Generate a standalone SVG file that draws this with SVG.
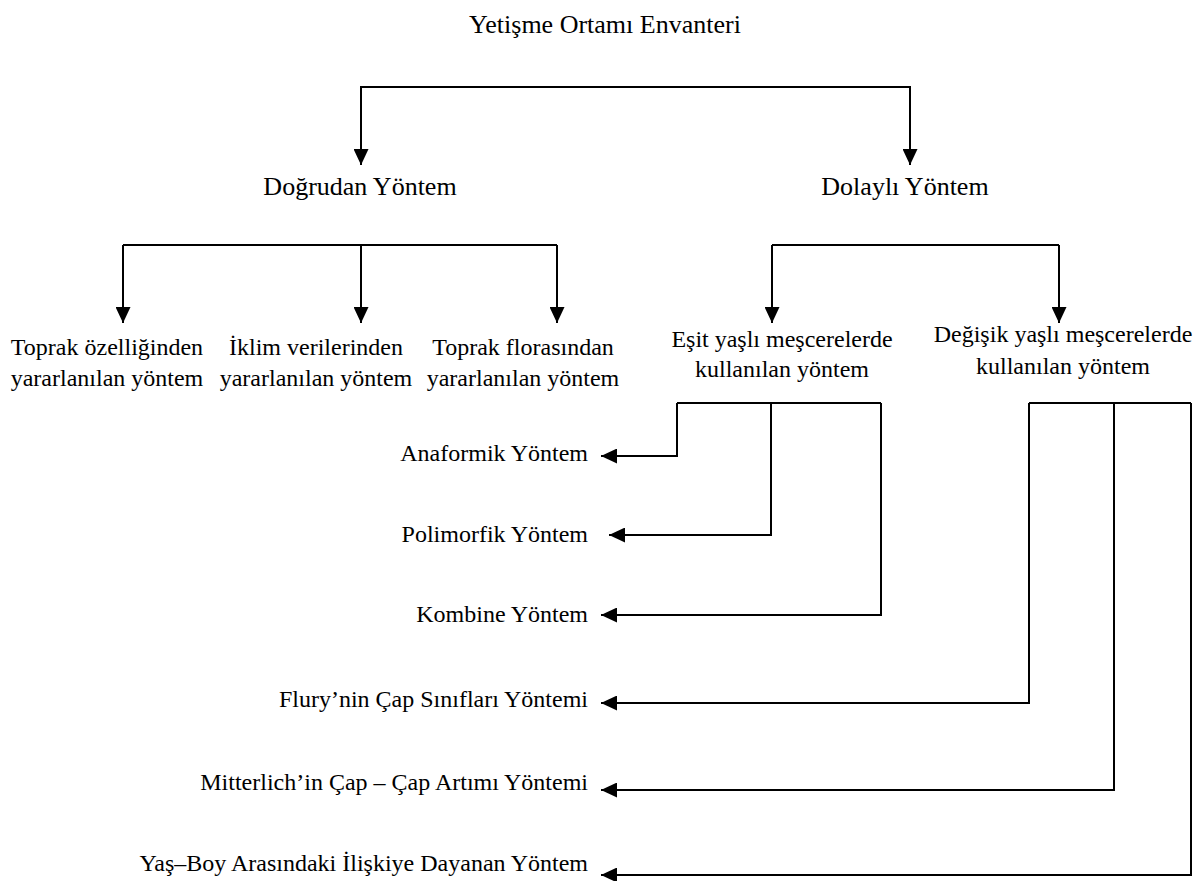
<svg xmlns="http://www.w3.org/2000/svg" width="1202" height="881" viewBox="0 0 1202 881">
  <defs>
    <marker id="arrow" markerUnits="userSpaceOnUse" markerWidth="16" markerHeight="15" refX="16" refY="7.5" orient="auto">
      <path d="M0,0 L16,7.5 L0,15 z" fill="#000"/>
    </marker>
    <style>
      text { font-family: "Liberation Serif", "Times New Roman", serif; fill: #000; }
      .big { font-size: 26px; text-anchor: middle; }
      .mid { font-size: 24px; text-anchor: middle; }
      .left { font-size: 24px; text-anchor: end; }
      .link { fill: none; stroke: #000; stroke-width: 2; }
      .arr { marker-end: url(#arrow); }
    </style>
  </defs>
  <rect width="1202" height="881" fill="#fff"/>

  <!-- connectors -->
  <g id="connectors">
    <!-- root to the two main methods -->
    <path class="link arr" d="M636,87 H361 V165"/>
    <path class="link arr" d="M636,87 H910 V165"/>
    <!-- direct method branches -->
    <path class="link" d="M123,245 H557"/>
    <path class="link arr" d="M123,245 V323"/>
    <path class="link arr" d="M361,245 V323"/>
    <path class="link arr" d="M557,245 V323"/>
    <!-- indirect method branches -->
    <path class="link" d="M772,245 H1059"/>
    <path class="link arr" d="M772,245 V323"/>
    <path class="link arr" d="M1059,245 V323"/>
    <!-- even-aged stand methods -->
    <path class="link" d="M677,403 H881"/>
    <path class="link arr" d="M677,403 V456 H601"/>
    <path class="link arr" d="M771,403 V535 H609"/>
    <path class="link arr" d="M881,403 V615 H601"/>
    <!-- uneven-aged stand methods -->
    <path class="link" d="M1029,403 H1191"/>
    <path class="link arr" d="M1029,403 V703 H601"/>
    <path class="link arr" d="M1114,403 V790 H601"/>
    <path class="link arr" d="M1191,403 V875 H601"/>
  </g>

  <g id="root">
    <text class="big" x="605" y="33">Yetişme Ortamı Envanteri</text>
  </g>
  <g id="dogrudan">
    <text class="big" x="360" y="195">Doğrudan Yöntem</text>
  </g>
  <g id="dolayli">
    <text class="big" x="905" y="195">Dolaylı Yöntem</text>
  </g>

  <g id="toprak-ozellik">
    <text class="mid" x="107" y="355">Toprak özelliğinden</text>
    <text class="mid" x="107" y="386">yararlanılan yöntem</text>
  </g>
  <g id="iklim">
    <text class="mid" x="316" y="355">İklim verilerinden</text>
    <text class="mid" x="316" y="386">yararlanılan yöntem</text>
  </g>
  <g id="toprak-flora">
    <text class="mid" x="523" y="355">Toprak florasından</text>
    <text class="mid" x="523" y="386">yararlanılan yöntem</text>
  </g>
  <g id="esit-yasli">
    <text class="mid" x="782" y="347">Eşit yaşlı meşcerelerde</text>
    <text class="mid" x="782" y="377">kullanılan yöntem</text>
  </g>
  <g id="degisik-yasli">
    <text class="mid" x="1063" y="342">Değişik yaşlı meşcerelerde</text>
    <text class="mid" x="1063" y="374">kullanılan yöntem</text>
  </g>

  <g id="anaformik">
    <text class="left" x="588" y="461">Anaformik Yöntem</text>
  </g>
  <g id="polimorfik">
    <text class="left" x="588" y="542">Polimorfik Yöntem</text>
  </g>
  <g id="kombine">
    <text class="left" x="588" y="622">Kombine Yöntem</text>
  </g>
  <g id="flury">
    <text class="left" x="588" y="707">Flury’nin Çap Sınıfları Yöntemi</text>
  </g>
  <g id="mitterlich">
    <text class="left" x="588" y="790">Mitterlich’in Çap – Çap Artımı Yöntemi</text>
  </g>
  <g id="yas-boy">
    <text class="left" x="588" y="871">Yaş–Boy Arasındaki İlişkiye Dayanan Yöntem</text>
  </g>
</svg>
